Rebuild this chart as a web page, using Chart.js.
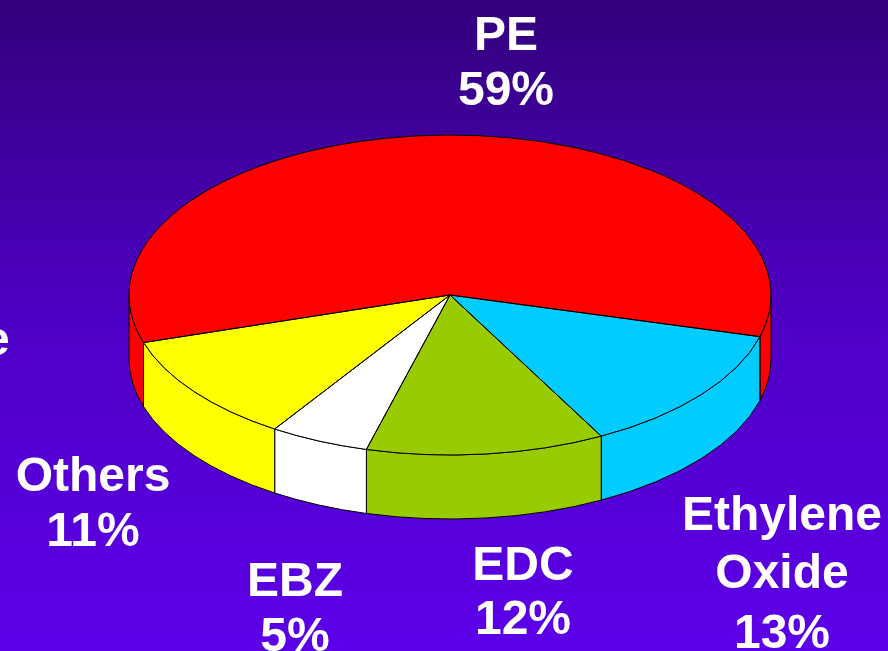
<!DOCTYPE html>
<html><head><meta charset="utf-8">
<script src="https://cdn.jsdelivr.net/npm/chart.js@4/dist/chart.umd.min.js"></script>
<style>html,body{margin:0;padding:0;overflow:hidden;background:#350080}
#wrap{width:888px;height:651px;position:relative}
</style></head><body><div id="wrap"><canvas id="c" width="888" height="651"></canvas></div>
<script>
// ---- data ----
const categories = ['PE', 'Ethylene Oxide', 'EDC', 'EBZ', 'Others'];
const shares = [59, 13, 12, 5, 11];
const labelLines = [['PE', '59%'], ['Ethylene', 'Oxide', '13%'], ['EDC', '12%'], ['EBZ', '5%'], ['Others', '11%']];
const strayText = 'e';

// ---- styles / layout ----
const sliceColors = ['#ff0000', '#00ccff', '#99cc00', '#ffffff', '#ffff00'];
const labelAnchors = [
  {x: 506, y: [50, 105]},
  {x: 782, y: [530, 588, 648]},
  {x: 523, y: [580, 634]},
  {x: 295, y: [596, 651]},
  {x: 93,  y: [491, 546]}
];
const TILT = 0.4984;     // ellipse ry / rx
const DEPTH = 64;        // side wall height
const CENTER_Y = 295;    // projected centre
const FONT = 'bold 48px "Liberation Sans", Arial, sans-serif';

const TWO_PI = Math.PI * 2;

const bgPlugin = {
  id: 'bg',
  beforeDraw(chart) {
    const ctx = chart.ctx;
    const g = ctx.createLinearGradient(0, 0, 0, chart.height);
    g.addColorStop(0, '#33007c');
    g.addColorStop(0.5, '#4f00c6');
    g.addColorStop(1, '#5c00e8');
    ctx.save();
    ctx.fillStyle = g;
    ctx.fillRect(0, 0, chart.width, chart.height);
    ctx.restore();
  }
};

function frontIntervals(a1, a2) {
  const out = [];
  for (let k = -2; k <= 2; k++) {
    const lo = Math.max(a1, k * TWO_PI);
    const hi = Math.min(a2, k * TWO_PI + Math.PI);
    if (hi > lo + 1e-6) out.push([lo, hi]);
  }
  return out;
}

const pie3d = {
  id: 'pie3d',
  beforeDatasetsDraw(chart) {
    const ctx = chart.ctx;
    const arcs = chart.getDatasetMeta(0).data;
    // side walls
    arcs.forEach((arc, i) => {
      const cx = arc.x, rx = arc.outerRadius, ry = rx * TILT;
      frontIntervals(arc.startAngle, arc.endAngle).forEach(([lo, hi]) => {
        ctx.save();
        ctx.beginPath();
        ctx.ellipse(cx, CENTER_Y, rx, ry, 0, lo, hi, false);
        ctx.lineTo(cx + rx * Math.cos(hi), CENTER_Y + DEPTH + ry * Math.sin(hi));
        ctx.ellipse(cx, CENTER_Y + DEPTH, rx, ry, 0, hi, lo, true);
        ctx.closePath();
        ctx.fillStyle = sliceColors[i];
        ctx.fill();
        ctx.lineWidth = 1;
        ctx.strokeStyle = '#000';
        ctx.stroke();
        ctx.restore();
      });
    });
    // project the library-drawn pie onto the tilted plane
    const cy = arcs[0].y;
    ctx.save();
    ctx.translate(0, CENTER_Y - cy * TILT);
    ctx.scale(1, TILT);
  },
  afterDatasetsDraw(chart) {
    const ctx = chart.ctx;
    ctx.restore();
    const arcs = chart.getDatasetMeta(0).data;
    ctx.save();
    ctx.lineWidth = 1;
    ctx.strokeStyle = '#000';
    arcs.forEach(arc => {
      const cx = arc.x, rx = arc.outerRadius, ry = rx * TILT;
      ctx.beginPath();
      ctx.moveTo(cx, CENTER_Y);
      ctx.ellipse(cx, CENTER_Y, rx, ry, 0, arc.startAngle, arc.endAngle, false);
      ctx.closePath();
      ctx.stroke();
    });
    ctx.restore();
  },
  afterDraw(chart) {
    const ctx = chart.ctx;
    ctx.save();
    ctx.fillStyle = '#ffffff';
    ctx.font = FONT;
    ctx.textAlign = 'center';
    ctx.textBaseline = 'alphabetic';
    labelLines.forEach((lines, i) => {
      const a = labelAnchors[i];
      lines.forEach((t, j) => ctx.fillText(t, a.x, a.y[j]));
    });
    ctx.textAlign = 'left';
    ctx.fillText(strayText, -17, 355);
    ctx.restore();
  }
};

new Chart(document.getElementById('c'), {
  type: 'pie',
  data: {
    labels: categories,
    datasets: [{
      data: shares,
      backgroundColor: sliceColors,
      borderWidth: 0,
      hoverOffset: 0
    }]
  },
  options: {
    responsive: false,
    animation: false,
    events: [],
    rotation: 252.7,
    layout: {padding: {left: 129, right: 117, top: 4, bottom: 5}},
    plugins: {legend: {display: false}, tooltip: {enabled: false}}
  },
  plugins: [bgPlugin, pie3d]
});
</script></body></html>
